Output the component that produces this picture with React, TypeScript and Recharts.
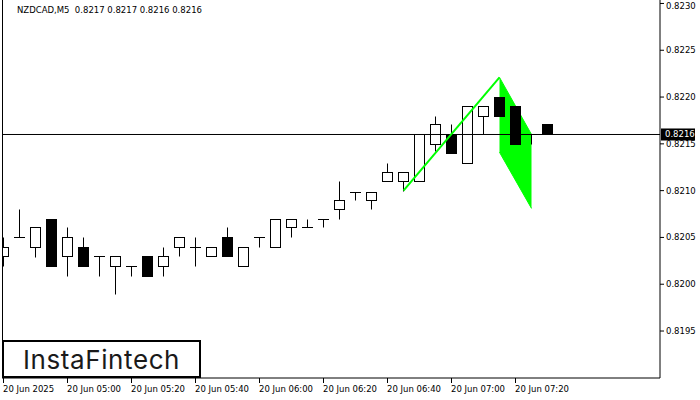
import React from "react";
import {
  ComposedChart,
  Bar,
  Line,
  Area,
  XAxis,
  YAxis,
  ReferenceLine,
} from "recharts";

// NZDCAD M5 candles, 04:40 .. 07:30
const opens = [
  0.8203, 0.8205, 0.8204, 0.8207, 0.8203, 0.8204, 0.8203, 0.82019, 0.82019, 0.8203,
  0.82019, 0.8204, 0.8204, 0.8203, 0.8205, 0.82019, 0.8205, 0.8204, 0.82061, 0.82061,
  0.8207, 0.8208, 0.82099, 0.8209, 0.8211, 0.8211, 0.8211, 0.8215, 0.8216, 0.8213,
  0.8218, 0.822, 0.8219, 0.8216, 0.82171,
];
const highs = [
  0.8205, 0.8208, 0.82061, 0.8207, 0.82061, 0.8205, 0.8203, 0.8203, 0.82019, 0.8203,
  0.8204, 0.8205, 0.8205, 0.8204, 0.82061, 0.8204, 0.8205, 0.8207, 0.8207, 0.8207,
  0.8207, 0.8211, 0.82099, 0.82099, 0.8213, 0.8212, 0.8216, 0.8218, 0.82171, 0.8219,
  0.8219, 0.822, 0.8219, 0.8216, 0.82171,
];
const lows = [
  0.82019, 0.8205, 0.82029, 0.82019, 0.82009, 0.82019, 0.82009, 0.8199, 0.82009, 0.82009,
  0.82009, 0.8203, 0.82019, 0.8203, 0.8203, 0.82019, 0.8204, 0.8204, 0.8205, 0.82061,
  0.82061, 0.8207, 0.8209, 0.8208, 0.8211, 0.821, 0.8211, 0.82142, 0.8214, 0.8213,
  0.8216, 0.8218, 0.8215, 0.8215, 0.8216,
];
const closes = [
  0.8204, 0.8205, 0.82061, 0.82019, 0.8205, 0.82019, 0.8203, 0.8203, 0.82019, 0.82009,
  0.8203, 0.8205, 0.8204, 0.8204, 0.8203, 0.8204, 0.8205, 0.8207, 0.8207, 0.82061,
  0.8207, 0.8209, 0.82099, 0.82099, 0.8212, 0.8212, 0.8216, 0.82171, 0.8214, 0.8219,
  0.8219, 0.8218, 0.8215, 0.8216, 0.8216,
];

const tickIndexes = [0, 4, 8, 12, 16, 20, 24, 28, 32];
const tickLabels = [
  "20 Jun 2025",
  "20 Jun 05:00",
  "20 Jun 05:20",
  "20 Jun 05:40",
  "20 Jun 06:00",
  "20 Jun 06:20",
  "20 Jun 06:40",
  "20 Jun 07:00",
  "20 Jun 07:20",
];
const priceTicks = [0.8195, 0.82, 0.8205, 0.821, 0.8215, 0.822, 0.8225, 0.823];

// bearish flag: pole and flag body
const poleIndex = [25, 31];
const poleValues = [0.821, 0.82221];
const flagIndex = [31, 33];
const flagTop = [0.82221, 0.8216];
const flagBottom = [0.82141, 0.82081];

const lastPrice = 0.8216;
const header = "NZDCAD,M5  0.8217 0.8217 0.8216 0.8216";

const X_MIN = -0.09375;
const X_MAX = 41.03125;
const Y_MIN = 0.818998;
const Y_MAX = 0.823037;

const FONT = "DejaVu Sans";

const data = opens.map((open, i) => {
  const p = poleIndex.indexOf(i);
  const f = flagIndex.indexOf(i);
  return {
    i,
    open,
    high: highs[i],
    low: lows[i],
    close: closes[i],
    range: [lows[i], highs[i]],
    pole: p >= 0 ? poleValues[p] : null,
    flag: f >= 0 ? [flagBottom[f], flagTop[f]] : null,
  };
});

const Candle = (props: any) => {
  const { x, y, width, height, payload } = props;
  const { open, close, high, low } = payload;
  const cx = Math.floor(x + width / 2) + 0.5;
  const k = high === low ? 0 : height / (high - low);
  const py = (v: number) => Math.round(y + (high - v) * k) + 0.5;
  const top = py(Math.max(open, close));
  const bot = py(Math.min(open, close));
  const bull = close >= open;
  return (
    <g>
      <line x1={cx} x2={cx} y1={py(high)} y2={py(low)} stroke="#000" />
      {top === bot ? (
        <line x1={cx - 5.5} x2={cx + 5.5} y1={top} y2={top} stroke="#000" />
      ) : (
        <rect
          x={cx - 5}
          y={top}
          width={10}
          height={bot - top}
          fill={bull ? "#fff" : "#000"}
          stroke="#000"
        />
      )}
    </g>
  );
};

const TimeTick = (props: any) => {
  const { x, y, payload } = props;
  const idx = tickIndexes.indexOf(payload.value);
  return (
    <text x={x - 0.5} y={y} dy={7} textAnchor="start" fontSize={8.5} fontFamily={FONT} fill="#000">
      {tickLabels[idx]}
    </text>
  );
};

const PriceTick = (props: any) => {
  const { x, y, payload } = props;
  // keep the top label inside the picture
  const ty = Math.max(y, 6);
  return (
    <text x={x} y={ty} dy="0.35em" textAnchor="start" fontSize={8.5} fontFamily={FONT} fill="#000">
      {payload.value.toFixed(4)}
    </text>
  );
};

const PriceTag = (props: any) => {
  const vb = props.viewBox;
  const yy = vb.y;
  const left = vb.x + vb.width + 1;
  return (
    <g>
      <rect x={left} y={yy - 6} width={34} height={12} fill="#000" />
      <text x={left + 4} y={yy} dy="0.35em" fontSize={8.5} fontFamily={FONT} fill="#fff">
        {lastPrice.toFixed(4)}
      </text>
    </g>
  );
};

export default function App() {
  return (
    <div style={{ position: "absolute", left: 0, top: 0, width: 700, height: 400, background: "#fff" }}>
      <ComposedChart
        width={700}
        height={400}
        data={data}
        margin={{ top: 0, right: 0, bottom: 0, left: 2 }}
      >
        <XAxis
          dataKey="i"
          type="number"
          domain={[X_MIN, X_MAX]}
          allowDataOverflow
          ticks={tickIndexes}
          interval={0}
          tick={<TimeTick />}
          tickSize={5}
          height={22}
          axisLine={{ stroke: "#000" }}
          tickLine={{ stroke: "#000" }}
        />
        <YAxis
          orientation="right"
          type="number"
          domain={[Y_MIN, Y_MAX]}
          allowDataOverflow
          ticks={priceTicks}
          interval={0}
          tick={<PriceTick />}
          tickSize={4}
          width={40}
          axisLine={{ stroke: "#000" }}
          tickLine={{ stroke: "#000" }}
        />
        <ReferenceLine x={X_MIN + 0.5 / 16} stroke="#000" />
        <Area
          dataKey="flag"
          type="linear"
          connectNulls
          fill="#00ff00"
          fillOpacity={1}
          stroke="#00ff00"
          isAnimationActive={false}
        />
        <ReferenceLine y={lastPrice} stroke="#000" label={PriceTag} />
        <Bar dataKey="range" barSize={11} shape={<Candle />} isAnimationActive={false} />
        <Line
          dataKey="pole"
          type="linear"
          connectNulls
          stroke="#00ff00"
          strokeWidth={2}
          dot={false}
          isAnimationActive={false}
        />
      </ComposedChart>
      <div
        style={{
          position: "absolute",
          left: 17,
          top: 5,
          fontFamily: FONT,
          fontSize: 8.5,
          color: "#000",
          whiteSpace: "pre",
        }}
      >
        {header}
      </div>
      <div
        style={{
          position: "absolute",
          left: 2,
          top: 340,
          width: 199,
          height: 38,
          boxSizing: "border-box",
          border: "2px solid #000",
          background: "#fff",
          display: "flex",
          alignItems: "center",
          justifyContent: "center",
          fontFamily: "Inter",
          fontWeight: 400,
          fontSize: 26,
          letterSpacing: 0.6,
          color: "#1a1a1a",
        }}
      >
        InstaFintech
      </div>
    </div>
  );
}
